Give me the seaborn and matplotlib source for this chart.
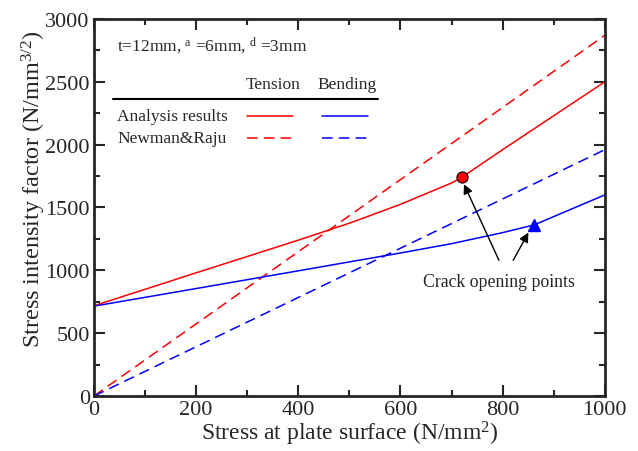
import matplotlib
matplotlib.use('Agg')
import matplotlib.pyplot as plt
import seaborn as sns
import numpy as np
from matplotlib.ticker import MultipleLocator

# data
stress_ten = [0, 200, 400, 500, 600, 700, 720, 800, 1000]
k_ten = [718, 980, 1240, 1375, 1525, 1695, 1740, 1960, 2500]
stress_bend = [0, 200, 400, 600, 700, 800, 862, 1000]
k_bend = [715, 855, 996, 1138, 1212, 1300, 1362, 1600]
stress_nr = [0, 1000]
k_nr_ten = [0, 2870]
k_nr_bend = [0, 1960]
open_ten = (720, 1740)
open_bend = (862, 1362)

sns.set_style('ticks')
plt.rcParams['font.family'] = ['Liberation Serif', 'DejaVu Serif']
plt.rcParams['mathtext.fontset'] = 'custom'
plt.rcParams['mathtext.rm'] = 'Liberation Serif'
plt.rcParams['mathtext.it'] = 'Liberation Serif:italic'

fig = plt.figure(figsize=(6.38, 4.52), dpi=100)
ax = fig.add_axes([0.1473, 0.1217, 0.8007, 0.8341])

sns.lineplot(x=stress_ten, y=k_ten, ax=ax, color='red', lw=1.1)
sns.lineplot(x=stress_nr, y=k_nr_ten, ax=ax, color='red', lw=1.1)
ax.lines[-1].set_dashes((7, 4))
sns.lineplot(x=stress_bend, y=k_bend, ax=ax, color='blue', lw=1.1)
sns.lineplot(x=stress_nr, y=k_nr_bend, ax=ax, color='blue', lw=1.1)
ax.lines[-1].set_dashes((7, 4))

ax.plot(*open_ten, 'o', ms=8, mfc='red', mec='black', mew=0.8, zorder=5)
ax.plot(*open_bend, '^', ms=9, mfc='blue', mec='blue', zorder=5)

ax.annotate('', xy=(722, 1705), xytext=(795, 1060),
            arrowprops=dict(arrowstyle='-|>', color='black', lw=1, mutation_scale=14))
ax.annotate('', xy=(853, 1320), xytext=(818, 1060),
            arrowprops=dict(arrowstyle='-|>', color='black', lw=1, mutation_scale=14))
ax.text(792, 910, 'Crack opening points', ha='center', va='center', fontsize=12.8)

ax.set_xlim(0, 1000)
ax.set_ylim(0, 3000)
ax.xaxis.set_major_locator(MultipleLocator(200))
ax.xaxis.set_minor_locator(MultipleLocator(100))
ax.yaxis.set_major_locator(MultipleLocator(500))
ax.yaxis.set_minor_locator(MultipleLocator(250))
ax.tick_params(which='both', direction='in', top=True, right=True, width=1.5, labelsize=16)
ax.tick_params(axis='x', pad=3)
ax.tick_params(axis='y', pad=3)
ax.tick_params(which='major', length=8)
ax.tick_params(which='minor', length=4)
for s in ax.spines.values():
    s.set_linewidth(2)

ax.set_xlabel('Stress at plate surface (N/mm$^2$)', fontsize=17, labelpad=0)
ax.set_ylabel('Stress intensity factor (N/mm$^{3/2}$)', fontsize=17.5)
ax.yaxis.set_label_coords(-0.09, 0.55)

# legend table
ax.text(45, 2800, 't=12mm, $^{\\rm a}$ =6mm, $^{\\rm d}$ =3mm', fontsize=12.5, va='center')
ax.text(350, 2485, 'Tension', fontsize=12.5, ha='center', va='center')
ax.text(495, 2485, 'Bending', fontsize=12.5, ha='center', va='center')
ax.plot([37, 556], [2360, 2360], color='black', lw=1.5)
ax.text(45, 2230, 'Analysis results', fontsize=12.5, va='center')
ax.text(45, 2055, 'Newman&Raju', fontsize=12.5, va='center')
ax.plot([300, 390], [2230, 2230], color='red', lw=1.1)
ax.plot([300, 390], [2055, 2055], color='red', lw=1.1, dashes=(7, 4))
ax.plot([446, 536], [2230, 2230], color='blue', lw=1.1)
ax.plot([446, 536], [2055, 2055], color='blue', lw=1.1, dashes=(7, 4))

fig.savefig('out.png', dpi=100)
